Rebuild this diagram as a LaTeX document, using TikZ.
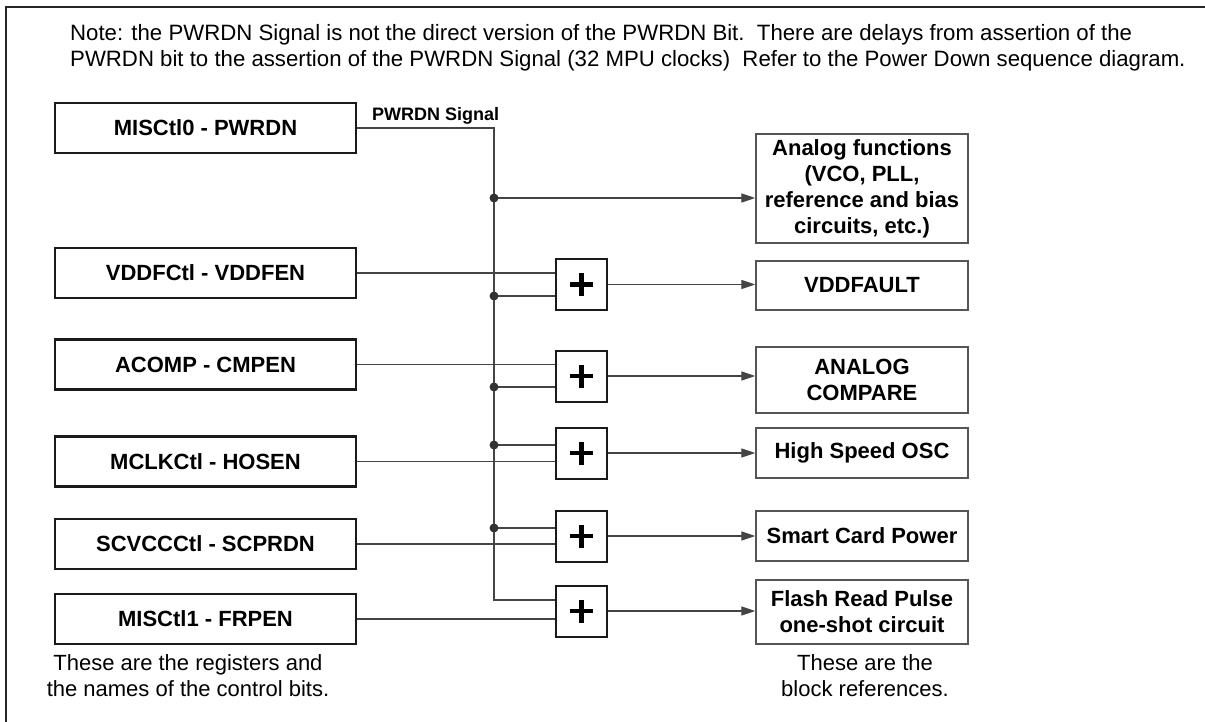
\documentclass[tikz,border=0pt]{standalone}
\usepackage{fontspec}
\setmainfont{Liberation Sans}
\usetikzlibrary{arrows.meta,calc}
\definecolor{wirec}{HTML}{444444}
\definecolor{boxc}{HTML}{1A1A1A}
\definecolor{blkc}{HTML}{555555}
\definecolor{dotc}{HTML}{333333}
\begin{document}
\begin{tikzpicture}[x=1pt,y=-1pt,
  regbox/.style={draw=boxc, line width=2.2pt, minimum width=301pt, minimum height=50pt, inner sep=0pt,
    font=\fontsize{22}{26}\selectfont\bfseries},
  blkbox/.style={draw=blkc, line width=1.4pt, minimum width=212pt, inner sep=0pt, align=center,
    font=\fontsize{22}{26}\selectfont\bfseries},
  plusbox/.style={draw=boxc, line width=2pt, minimum size=51pt, inner sep=0pt,
    path picture={
      \draw[line width=4.8pt,black] ($(path picture bounding box.center)+(-11.5pt,0pt)$) -- ($(path picture bounding box.center)+(11.5pt,0pt)$);
      \draw[line width=4.8pt,black] ($(path picture bounding box.center)+(0pt,-11.5pt)$) -- ($(path picture bounding box.center)+(0pt,11.5pt)$);
    }},
  wire/.style={draw=wirec, line width=1.3pt},
  arr/.style={-{Triangle[length=14pt,width=9pt]}},
  notetext/.style={anchor=base west, inner sep=0pt, font=\fontsize{22.2}{26}\selectfont},
  captext/.style={anchor=base, inner sep=0pt, font=\fontsize{22}{26}\selectfont},
  dotmark/.style={fill=dotc}
]
\useasboundingbox (0,0) rectangle (1205,722);
\clip (0,0) rectangle (1205,722);
\fill[white] (0,0) rectangle (1205,722);

% outer frame (only top and left edges are visible)
\draw[line width=2pt, black!85] (1215,7) -- (6,7) -- (6,735);

% note
\node[notetext] (note1) at (70,41) {Note: the PWRDN Signal is not the direct version of the PWRDN Bit.\ \ There are delays from assertion of the};
\node[notetext] (note2) at (70,67) {PWRDN bit to the assertion of the PWRDN Signal (32 MPU clocks)\ \ Refer to the Power Down sequence diagram.};

% register boxes
\node[regbox] (L1) at (205.5,128) {MISCtl0 - PWRDN};
\node[regbox] (L2) at (205.5,273) {VDDFCtl - VDDFEN};
\node[regbox] (L3) at (205.5,364.5) {ACOMP - CMPEN};
\node[regbox] (L4) at (205.5,461.5) {MCLKCtl - HOSEN};
\node[regbox] (L5) at (205.5,544) {SCVCCCtl - SCPRDN};
\node[regbox] (L6) at (205.5,619) {MISCtl1 - FRPEN};

% OR boxes
\node[plusbox] (P1) at (581.5,284.5) {};
\node[plusbox] (P2) at (581.5,376) {};
\node[plusbox] (P3) at (581.5,453) {};
\node[plusbox] (P4) at (581.5,536) {};
\node[plusbox] (P5) at (581.5,611) {};

% block boxes
\node[blkbox, minimum height=109pt] (R0) at (862,188.5) {Analog functions\\(VCO, PLL,\\reference and bias\\circuits, etc.)};
\node[blkbox, minimum height=49pt] (R1) at (862,285.5) {VDDFAULT};
\node[blkbox, minimum height=66pt] (R2) at (862,380) {ANALOG\\COMPARE};
\node[blkbox, minimum height=50pt] (R3) at (862,453) {High Speed OSC};
\node[blkbox, minimum height=50pt] (R4) at (862,536) {Smart Card Power};
\node[blkbox, minimum height=64pt] (R5) at (862,612) {Flash Read Pulse\\one-shot circuit};

% PWRDN signal bus
\node[anchor=base west, inner sep=0pt, font=\fontsize{18}{20}\selectfont\bfseries] (sig) at (372,121) {PWRDN Signal};
\coordinate (bt) at (494,128);
\coordinate (bb) at (494,600);
\coordinate (d0) at (494,198);
\coordinate (d1) at (494,296);
\coordinate (d2) at (494,387);
\coordinate (d3) at (494,445);
\coordinate (d4) at (494,528);
\draw[wire] (L1.east) -- (bt) -- (bb) -- (bb -| P5.west);

\draw[wire, arr] (d0) -- (d0 -| R0.west);
\draw[wire] (d1) -- (d1 -| P1.west);
\draw[wire] (d2) -- (d2 -| P2.west);
\draw[wire] (d3) -- (d3 -| P3.west);
\draw[wire] (d4) -- (d4 -| P4.west);

% register inputs
\draw[wire] (L2.east) -- (L2.east -| P1.west);
\draw[wire] (L3.east) -- (L3.east -| P2.west);
\draw[wire] (L4.east) -- (L4.east -| P3.west);
\draw[wire] (L5.east) -- (L5.east -| P4.west);
\draw[wire] (L6.east) -- (L6.east -| P5.west);

% outputs
\draw[wire, arr] (P1.east) -- (P1.east -| R1.west);
\draw[wire, arr] (P2.east) -- (P2.east -| R2.west);
\draw[wire, arr] (P3.east) -- (P3.east -| R3.west);
\draw[wire, arr] (P4.east) -- (P4.east -| R4.west);
\draw[wire, arr] (P5.east) -- (P5.east -| R5.west);

% junction dots
\foreach \d in {d0,d1,d2,d3,d4} \fill[dotmark] (\d) circle[radius=4.5pt];

% captions
\node[captext] (capL1) at (188,670) {These are the registers and};
\node[captext] (capL2) at (188,696) {the names of the control bits.};
\node[captext] (capR1) at (865,670) {These are the};
\node[captext] (capR2) at (865,696) {block references.};
\end{tikzpicture}
\end{document}
